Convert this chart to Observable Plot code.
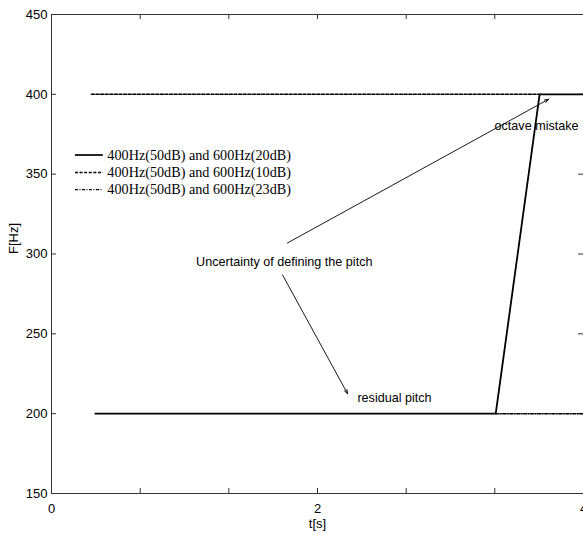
<!DOCTYPE html>
<html><head><meta charset="utf-8">
<script src="https://cdn.jsdelivr.net/npm/d3@7"></script>
<script src="https://cdn.jsdelivr.net/npm/@observablehq/plot@0.6"></script>
<style>body{margin:0;background:#fff;overflow:hidden} #chart svg{display:block}</style>
</head><body><div id="chart"></div>
<script>
// Series
const seriesNames = ["400Hz(50dB) and 600Hz(20dB)", "400Hz(50dB) and 600Hz(10dB)", "400Hz(50dB) and 600Hz(23dB)"];
const seriesDash = [null, "3,1.6", "3,1.5,1,1.5"];
const solidT = [0.33, 3.34, 3.67, 4.0];
const solidF = [200, 200, 400, 400];
const dashedT = [0.30, 3.67];
const dashedF = [400, 400];
const dashDotT = [3.34, 4.0];
const dashDotF = [200, 200];
// Axes
const xTicks = [0, 0.667, 1.333, 2, 2.667, 3.333, 4];
const xTickLabels = [0, 2, 4];
const yTicks = [150, 200, 250, 300, 350, 400, 450];
// Annotations
const annTexts = ["Uncertainty of defining the pitch", "octave mistake", "residual pitch"];
const annT = [1.75, 3.647, 2.579];
const annF = [295, 380, 210];
const arrowT1 = [1.774, 1.737];
const arrowF1 = [306.9, 286.9];
const arrowT2 = [3.737, 2.226];
const arrowF2 = [396.9, 212.5];
// Legend placement (data units)
const legendF = [362, 351, 340.3];
const legendT1 = 0.18, legendT2 = 0.39, legendTextT = 0.42;
const tickLenT = 0.0376, tickLenF = 3.125;

const toPts = (ts, fs) => ts.map((t, i) => ({t, f: fs[i]}));
const solid = toPts(solidT, solidF);
const dashed = toPts(dashedT, dashedF);
const dashDot = toPts(dashDotT, dashDotF);
const legend = seriesNames.map((name, i) => ({name, f: legendF[i], dash: seriesDash[i]}));
const anns = annTexts.map((text, i) => ({text, t: annT[i], f: annF[i]}));
const arrows = arrowT1.map((t, i) => ({x1: t, y1: arrowF1[i], x2: arrowT2[i], y2: arrowF2[i]}));

const chart = Plot.plot({
  width: 583, height: 535,
  marginLeft: 51, marginRight: 0, marginTop: 14, marginBottom: 42,
  style: {fontFamily: "Liberation Sans, Arial, sans-serif", fontSize: "13px", background: "#fff", color: "#000"},
  x: {domain: [0, 4]},
  y: {domain: [150, 450]},
  marks: [
    Plot.frame({stroke: "#333", strokeWidth: 1}),
    // inward ticks
    Plot.ruleX(xTicks, {x: d => d, y1: 150, y2: 150 + tickLenF, stroke: "#333"}),
    Plot.ruleX(xTicks, {x: d => d, y1: 450 - tickLenF, y2: 450, stroke: "#333"}),
    Plot.ruleY(yTicks, {y: d => d, x1: 0, x2: tickLenT, stroke: "#333"}),
    Plot.ruleY(yTicks, {y: d => d, x1: 4 - tickLenT, x2: 4, stroke: "#333"}),
    Plot.axisX(xTickLabels, {anchor: "bottom", tickSize: 0, tickPadding: 10, fontSize: 13, label: null, tickFormat: d3.format("d")}),
    Plot.axisY(yTicks, {anchor: "left", tickSize: 0, tickPadding: 4, fontSize: 13, label: null, tickFormat: d3.format("d")}),
    Plot.text(["F[Hz]"], {frameAnchor: "left", dx: -38, rotate: -90, fontSize: 13, fill: "#000"}),
    Plot.text(["t[s]"], {frameAnchor: "bottom", dy: 34, fontSize: 13, fill: "#000"}),
    // series
    Plot.line(dashed, {x: "t", y: "f", stroke: "#000", strokeWidth: 1.5, strokeDasharray: seriesDash[1]}),
    Plot.line(dashDot, {x: "t", y: "f", stroke: "#000", strokeWidth: 1.5, strokeDasharray: seriesDash[2]}),
    Plot.line(solid, {x: "t", y: "f", stroke: "#000", strokeWidth: 1.8}),
    // legend
    Plot.ruleY(legend.filter(d => !d.dash), {y: "f", x1: legendT1, x2: legendT2, stroke: "#000", strokeWidth: 1.7}),
    Plot.ruleY(legend.filter(d => d.dash === seriesDash[1]), {y: "f", x1: legendT1, x2: legendT2, stroke: "#000", strokeWidth: 1.4, strokeDasharray: seriesDash[1]}),
    Plot.ruleY(legend.filter(d => d.dash === seriesDash[2]), {y: "f", x1: legendT1, x2: legendT2, stroke: "#000", strokeWidth: 1.4, strokeDasharray: seriesDash[2]}),
    Plot.text(legend, {x: legendTextT, y: "f", text: "name", textAnchor: "start", fontFamily: "Liberation Serif, Times New Roman, serif", fontSize: 14.2, fill: "#000"}),
    // annotations
    Plot.text(anns, {x: "t", y: "f", text: "text", fontSize: 12.6, fill: "#000"}),
    Plot.arrow(arrows, {x1: "x1", y1: "y1", x2: "x2", y2: "y2", stroke: "#000", strokeWidth: 0.9, headLength: 7, headAngle: 40})
  ]
});
document.getElementById("chart").appendChild(chart);
</script>
</body></html>
